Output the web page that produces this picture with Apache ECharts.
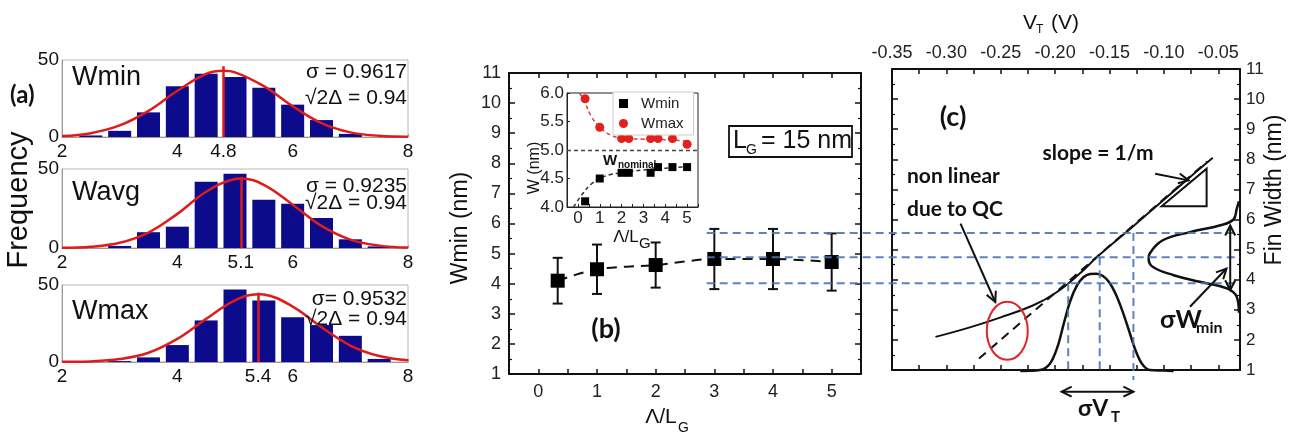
<!DOCTYPE html>
<html>
<head>
<meta charset="utf-8">
<script src="https://cdn.jsdelivr.net/npm/echarts@6.0.0/dist/echarts.min.js"></script>
<style>
html,body{margin:0;padding:0;background:#ffffff;}
#chart{width:1300px;height:439px;}
</style>
</head>
<body>
<div id="chart"></div>
<script>
// ===== Panel (a): histograms (bin centres, counts, fitted curves) =====
const binCenters = [2.5, 3.0, 3.5, 4.0, 4.5, 5.0, 5.5, 6.0, 6.5, 7.0, 7.5];
const wminCounts = [1, 4, 16, 33, 41, 39, 32, 21, 11, 2, 0];
const wavgCounts = [0, 1.3, 10, 13.5, 42, 47, 30.5, 28, 19, 5.5, 1];
const wmaxCounts = [0, 0.6, 3, 11, 27, 47, 40, 29, 24, 17, 2];
const wminFitX = [2, 2.5, 3, 3.5, 4, 4.5, 4.8, 5, 5.5, 6, 6.5, 7, 7.5, 8];
const wminFitY = [0.6, 2.5, 7.5, 17, 30, 41, 43, 42, 33, 20, 9, 3, 0.8, 0.2];
const wavgFitX = [2, 2.5, 3, 3.5, 4, 4.5, 5, 5.1, 5.5, 6, 6.5, 7, 7.5, 8];
const wavgFitY = [0.2, 0.8, 3.3, 9.8, 21.6, 35.6, 43.7, 44, 40, 27.4, 14, 5.3, 1.5, 0.3];
const wmaxFitX = [2, 2.5, 3, 3.5, 4, 4.5, 5, 5.4, 5.5, 6, 6.5, 7, 7.5, 8];
const wmaxFitY = [0.1, 0.4, 1.9, 6, 15, 28, 40, 44, 43.8, 36, 22.6, 10.7, 3.9, 1.1];
const histMeans = [4.8, 5.1, 5.4];
const histMeanTop = [46, 45, 45];
const histNames = ['Wmin', 'Wavg', 'Wmax'];
const histSigma = ['σ = 0.9617', 'σ = 0.9235', 'σ= 0.9532'];
const histDelta = ['√2Δ = 0.94', '√2Δ = 0.94', '√2Δ = 0.94'];

// ===== Panel (b): Wmin vs Λ/LG =====
const bX   = [0.33, 1, 2, 3, 4, 5];
const bW   = [4.1, 4.48, 4.62, 4.82, 4.82, 4.72];
const bErr = [0.76, 0.82, 0.75, 1.0, 1.0, 0.95];
// inset
const insetX    = [0.33, 1, 2, 2.33, 3.33, 3.67, 4.33, 5];
const insetWmin = [4.1, 4.5, 4.6, 4.6, 4.6, 4.7, 4.7, 4.7];
const insetWmax = [5.9, 5.4, 5.2, 5.2, 5.2, 5.2, 5.2, 5.1];
const insetMaxFitX = [0.07, 0.3, 0.6, 1, 1.5, 2, 3, 4, 5];
const insetMaxFitY = [6.0, 5.85, 5.6, 5.4, 5.26, 5.21, 5.19, 5.18, 5.16];
const insetMinFitX = [-0.2, 0.25, 0.6, 1, 1.5, 2, 3, 4, 5];
const insetMinFitY = [4.0, 4.25, 4.4, 4.5, 4.57, 4.6, 4.65, 4.68, 4.71];
const wNominal = 5.0;

// ===== Panel (c): Fin width vs VT =====
const vtCurveX = [-0.31, -0.28, -0.25, -0.22, -0.20, -0.18, -0.16, -0.13, -0.10, -0.075, -0.055];
const vtCurveW = [2.1, 2.4, 2.75, 3.15, 3.55, 4.12, 4.80, 5.72, 6.66, 7.44, 8.05];
const vtLinX = [-0.27, -0.06];
const vtLinW = [1.38, 7.93];
const vtPdfX = [-0.232, -0.214, -0.205, -0.198, -0.192, -0.186, -0.180, -0.174, -0.168, -0.162, -0.156, -0.150, -0.144, -0.138, -0.132, -0.126, -0.120, -0.113, -0.100, -0.091];
const vtPdfW = [0.97, 1.0, 1.2, 1.75, 2.55, 3.3, 3.8, 4.08, 4.19, 4.2, 4.12, 3.9, 3.5, 2.95, 2.3, 1.65, 1.2, 1.0, 0.98, 0.97];
const wPdfVT = [-0.031, -0.033, -0.036, -0.048, -0.076, -0.101, -0.113, -0.114, -0.110, -0.091, -0.067, -0.042, -0.033, -0.031];
const wPdfW  = [6.6, 6.35, 6.0, 5.81, 5.58, 5.31, 4.87, 4.70, 4.42, 4.15, 3.93, 3.71, 3.43, 2.9];
const guideW  = [5.55, 4.75, 3.88];        // horizontal guides (fin width)
const guideVT = [-0.188, -0.159, -0.128];  // vertical guides (VT)
const guideBStart = 2.87;                  // where horizontal guides start in (b)

const FONT = '"Liberation Sans", Arial, sans-serif';
const BFONT = 'Lato, "Liberation Sans", sans-serif';
const BLUE = '#4d76b3';
const INK = '#111';

const chart = echarts.init(document.getElementById('chart'), null, {width: 1300, height: 439, renderer: 'canvas'});

// ---- grids ----
const aTops = [60, 169, 285];
const aHeights = [77, 79, 77];
const grids = [];
aTops.forEach((t, i) => grids.push({left: 62, top: t, width: 346, height: aHeights[i], show: true, borderColor: '#b8b8b8', borderWidth: 1, containLabel: false, outerBoundsMode: 'none'}));
grids.push({left: 509, top: 73, width: 352, height: 301, containLabel: false, outerBoundsMode: 'none'});
grids.push({left: 567, top: 93, width: 131, height: 114, show: true, backgroundColor: '#fff', borderColor: '#222', borderWidth: 1, containLabel: false, outerBoundsMode: 'none'});
grids.push({left: 892, top: 69, width: 348, height: 301, containLabel: false, outerBoundsMode: 'none'});

// ---- axes ----
const xAxes = [], yAxes = [];
for (let i = 0; i < 3; i++) {
  xAxes.push({gridIndex: i, type: 'value', min: 2, max: 8, interval: 2,
    axisLine: {show: true, onZero: false, lineStyle: {color: '#9a9a9a', width: 1}},
    axisTick: {show: true, inside: true, length: 3, lineStyle: {color: '#9a9a9a'}},
    axisLabel: {color: INK, fontSize: 19, fontFamily: FONT, margin: 5}, splitLine: {show: false}});
  yAxes.push({gridIndex: i, type: 'value', min: 0, max: 50, interval: 50,
    axisLine: {show: true, onZero: false, lineStyle: {color: '#9a9a9a'}},
    axisTick: {show: false},
    axisLabel: {color: INK, fontSize: 19, fontFamily: FONT, margin: 3}, splitLine: {show: false}});
}
const intFmt = v => Math.abs(v - Math.round(v)) < 1e-6 ? String(Math.round(v)) : '';
const blackLine = {show: true, onZero: false, lineStyle: {color: INK, width: 2}};
const tickIn = {show: true, inside: true, length: 6, lineStyle: {color: INK, width: 1.5}};
const minorIn = {show: true, splitNumber: 2, length: 3, lineStyle: {color: INK, width: 1.2}};
// (b) main
xAxes.push({gridIndex: 3, type: 'value', position: 'bottom', min: -0.5, max: 5.5, interval: 0.5, axisLine: blackLine,
  axisTick: {show: true, inside: true, length: 5, lineStyle: {color: INK, width: 1.5}},
  axisLabel: {formatter: intFmt, color: '#222', fontSize: 18, fontFamily: FONT, margin: 9}, splitLine: {show: false}});
xAxes.push({gridIndex: 3, type: 'value', position: 'top', min: -0.5, max: 5.5, interval: 0.5, axisLine: blackLine,
  axisTick: {show: true, inside: true, length: 5, lineStyle: {color: INK, width: 1.5}},
  axisLabel: {show: false}, splitLine: {show: false}});
yAxes.push({gridIndex: 3, type: 'value', position: 'left', min: 1, max: 11, interval: 1, axisLine: blackLine, axisTick: tickIn, minorTick: minorIn,
  axisLabel: {color: '#222', fontSize: 18, fontFamily: FONT, margin: 8}, splitLine: {show: false}});
yAxes.push({gridIndex: 3, type: 'value', position: 'right', min: 1, max: 11, interval: 1, axisLine: blackLine, axisTick: tickIn, minorTick: minorIn,
  axisLabel: {show: false}, splitLine: {show: false}});
// inset
xAxes.push({gridIndex: 4, type: 'value', min: -0.5, max: 5.5, interval: 0.5,
  axisLine: {show: true, onZero: false, lineStyle: {color: '#222', width: 1}},
  axisTick: {show: true, inside: true, length: 3, lineStyle: {color: '#222'}},
  axisLabel: {formatter: intFmt, color: '#222', fontSize: 17, fontFamily: FONT, margin: 3}, splitLine: {show: false}});
yAxes.push({gridIndex: 4, type: 'value', min: 4, max: 6, interval: 0.5,
  axisLine: {show: true, onZero: false, lineStyle: {color: '#222', width: 1}},
  axisTick: {show: true, inside: true, length: 3, lineStyle: {color: '#222'}},
  axisLabel: {formatter: v => v.toFixed(1), color: '#222', fontSize: 17, fontFamily: FONT, margin: 3}, splitLine: {show: false}});
// (c)
const vtFmt = v => { const k = Math.round(v / 0.025); return (k % 2 === 0 && v < -0.04) ? v.toFixed(2) : ''; };
xAxes.push({gridIndex: 5, type: 'value', position: 'top', min: -0.35, max: -0.03, interval: 0.025, axisLine: blackLine,
  axisTick: {show: true, inside: true, length: 5, lineStyle: {color: INK, width: 1.5}},
  axisLabel: {formatter: vtFmt, color: '#222', fontSize: 18, fontFamily: FONT, margin: 7, showMaxLabel: false}, splitLine: {show: false}});
xAxes.push({gridIndex: 5, type: 'value', position: 'bottom', min: -0.35, max: -0.03, interval: 0.025, axisLine: blackLine,
  axisTick: {show: true, inside: true, length: 5, lineStyle: {color: INK, width: 1.5}},
  axisLabel: {show: false}, splitLine: {show: false}});
yAxes.push({gridIndex: 5, type: 'value', position: 'right', min: 1, max: 11, interval: 1, axisLine: blackLine, axisTick: tickIn, minorTick: minorIn,
  axisLabel: {color: '#222', fontSize: 17, fontFamily: FONT, margin: 6}, splitLine: {show: false}});
yAxes.push({gridIndex: 5, type: 'value', position: 'left', min: 1, max: 11, interval: 1, axisLine: blackLine, axisTick: tickIn, minorTick: minorIn,
  axisLabel: {show: false}, splitLine: {show: false}});

// ---- series ----
const zip = (xs, ys) => xs.map((x, i) => [x, ys[i]]);
const series = [];
const counts = [wminCounts, wavgCounts, wmaxCounts];
const fitXs = [wminFitX, wavgFitX, wmaxFitX];
const fitYs = [wminFitY, wavgFitY, wmaxFitY];
for (let i = 0; i < 3; i++) {
  series.push({type: 'bar', name: 'hist' + i, xAxisIndex: i, yAxisIndex: i, data: zip(binCenters, counts[i]),
    barWidth: 23, itemStyle: {color: '#0b0b8c', opacity: 1}, silent: true, animation: false});
  series.push({type: 'line', name: 'fit' + i, xAxisIndex: i, yAxisIndex: i, data: zip(fitXs[i], fitYs[i]),
    smooth: 0.4, symbol: 'none', lineStyle: {color: '#e01b1b', width: 2.5}, z: 5, silent: true,
    markLine: {symbol: 'none', silent: true, animation: false,
      lineStyle: {color: '#e01b1b', width: 2.5, type: 'solid'},
      label: {show: true, position: 'start', formatter: String(histMeans[i]), color: INK, fontSize: 19, fontFamily: FONT, distance: 5},
      data: [[{coord: [histMeans[i], 0]}, {coord: [histMeans[i], histMeanTop[i]]}]]}});
}
// (b) main
series.push({type: 'line', name: 'bfit', xAxisIndex: 3, yAxisIndex: 3, data: zip(bX, bW), smooth: 0.3, symbol: 'none',
  lineStyle: {color: INK, width: 2, type: [10, 7]}, z: 3, silent: true});
series.push({type: 'custom', name: 'berr', xAxisIndex: 3, yAxisIndex: 3,
  data: bX.map((x, i) => [x, bW[i] - bErr[i], bW[i] + bErr[i]]),
  encode: {x: 0, y: [1, 2]}, z: 4, silent: true,
  renderItem: (params, api) => {
    const lo = api.coord([api.value(0), api.value(1)]);
    const hi = api.coord([api.value(0), api.value(2)]);
    const c = 5, st = {stroke: INK, lineWidth: 2};
    return {type: 'group', children: [
      {type: 'line', shape: {x1: lo[0], y1: lo[1], x2: hi[0], y2: hi[1]}, style: st},
      {type: 'line', shape: {x1: lo[0] - c, y1: lo[1], x2: lo[0] + c, y2: lo[1]}, style: st},
      {type: 'line', shape: {x1: hi[0] - c, y1: hi[1], x2: hi[0] + c, y2: hi[1]}, style: st}]};
  }});
series.push({type: 'scatter', name: 'bpts', xAxisIndex: 3, yAxisIndex: 3, data: zip(bX, bW), symbol: 'rect', symbolSize: 14,
  itemStyle: {color: '#000', opacity: 1}, z: 6, silent: true});
// inset
series.push({type: 'line', name: 'imaxfit', xAxisIndex: 5, yAxisIndex: 5, data: zip(insetMaxFitX, insetMaxFitY), smooth: 0.4, symbol: 'none',
  lineStyle: {color: '#e04040', width: 1.5, type: [4, 3]}, silent: true,
  markLine: {symbol: 'none', silent: true, label: {show: false}, lineStyle: {color: '#444', width: 1.3, type: [4, 3]}, data: [{yAxis: wNominal}]}});
series.push({type: 'line', name: 'iminfit', xAxisIndex: 5, yAxisIndex: 5, data: zip(insetMinFitX, insetMinFitY), smooth: 0.4, symbol: 'none',
  lineStyle: {color: '#333', width: 1.5, type: [4, 3]}, silent: true});
series.push({type: 'scatter', name: 'Wmin', xAxisIndex: 5, yAxisIndex: 5, data: zip(insetX, insetWmin), symbol: 'rect', symbolSize: 8,
  itemStyle: {color: '#000', opacity: 1}, z: 6, silent: true});
series.push({type: 'scatter', name: 'Wmax', xAxisIndex: 5, yAxisIndex: 5, data: zip(insetX, insetWmax), symbol: 'circle', symbolSize: 9,
  itemStyle: {color: '#e3211c', opacity: 1}, z: 6, silent: true});
// (c)
series.push({type: 'line', name: 'vtcurve', xAxisIndex: 6, yAxisIndex: 6, data: zip(vtCurveX, vtCurveW), smooth: 0.4, symbol: 'none',
  lineStyle: {color: INK, width: 2}, silent: true, z: 4});
series.push({type: 'line', name: 'vtlin', xAxisIndex: 6, yAxisIndex: 6, data: zip(vtLinX, vtLinW), symbol: 'none',
  lineStyle: {color: INK, width: 2, type: [9, 6]}, silent: true, z: 4});
series.push({type: 'line', name: 'vtpdf', xAxisIndex: 6, yAxisIndex: 6, data: zip(vtPdfX, vtPdfW), smooth: 0.35, symbol: 'none', clip: false,
  lineStyle: {color: INK, width: 2.5}, silent: true, z: 4});
series.push({type: 'line', name: 'wpdf', xAxisIndex: 6, yAxisIndex: 6, data: zip(wPdfVT, wPdfW), smooth: 0.4, symbol: 'none', clip: false,
  lineStyle: {color: INK, width: 2.5}, silent: true, z: 4});

const option = {
  animation: false,
  backgroundColor: '#ffffff',
  textStyle: {fontFamily: FONT},
  grid: grids, xAxis: xAxes, yAxis: yAxes, series: series,
  legend: {show: true, data: ['Wmin', 'Wmax'], orient: 'vertical', left: 613, top: 92, itemWidth: 9, itemHeight: 9, itemGap: 5,
    backgroundColor: '#ffffff', borderColor: '#cccccc', borderWidth: 1, padding: [4, 10, 4, 6],
    textStyle: {fontSize: 15, color: '#222', fontFamily: FONT, padding: [0, 0, 0, 8]}, selectedMode: false, z: 20}
};
chart.setOption(option);

// ---- annotations ----
function txt(text, x, y, o = {}) {
  return {type: 'text', x: x, y: y, rotation: o.rot || 0, silent: true, z: 60,
    style: {text: text, fill: o.color || INK, fontSize: o.size || 18, fontFamily: o.family || FONT, fontWeight: o.weight || 'normal',
      align: o.align || 'left', verticalAlign: 'middle'}};
}
const pc = (vt, w) => chart.convertToPixel({xAxisIndex: 6, yAxisIndex: 6}, [vt, w]);
function seg(p, q, st) { return {type: 'line', silent: true, z: 55, shape: {x1: p[0], y1: p[1], x2: q[0], y2: q[1]}, style: st}; }
function chev(tip, from, L = 10, W = 5) {
  const dx = tip[0] - from[0], dy = tip[1] - from[1], n = Math.hypot(dx, dy), ux = dx / n, uy = dy / n;
  const bx = tip[0] - ux * L, by = tip[1] - uy * L;
  return {type: 'polyline', silent: true, z: 56, shape: {points: [[bx - uy * W, by + ux * W], tip, [bx + uy * W, by - ux * W]]},
    style: {stroke: INK, lineWidth: 2, fill: null}};
}
function arrow(p, q, both) {
  const out = [seg(p, q, {stroke: INK, lineWidth: 2}), chev(q, p)];
  if (both) out.push(chev(p, q));
  return out;
}
const G = [];
// panel (a) texts
G.push(txt('(a)', 10, 95, {size: 24, weight: 'bold', family: BFONT}));
G.push(txt('Frequency', 19, 200, {size: 29, align: 'center', rot: Math.PI / 2}));
const nameY = [78, 193, 312], sigY = [72, 186, 299], delY = [98, 203, 319];
for (let i = 0; i < 3; i++) {
  G.push(txt(histNames[i], 72, nameY[i], {size: 27}));
  G.push(txt(histSigma[i], 407, sigY[i], {size: 21, align: 'right'}));
  G.push(txt(histDelta[i], 407, delY[i], {size: 21, align: 'right'}));
}
// panel (b) texts
G.push(txt('Wmin (nm)', 461, 228, {size: 23, align: 'center', rot: Math.PI / 2}));
G.push(txt('Λ/L', 661, 417, {size: 21, align: 'center'}));
G.push(txt('G', 678, 428, {size: 14}));
G.push(txt('(b)', 606, 329, {size: 27, weight: 'bold', family: BFONT, align: 'center'}));
G.push({type: 'rect', silent: true, z: 50, shape: {x: 729, y: 126, width: 123, height: 31}, style: {fill: '#fff', stroke: INK, lineWidth: 1.8}});
G.push(txt('L', 733, 141, {size: 25}));
G.push(txt('G', 746, 150, {size: 14}));
G.push(txt('= 15 nm', 761, 141, {size: 25}));
G.push(txt('W (nm)', 535, 168, {size: 16, align: 'center', rot: Math.PI / 2}));
G.push(txt('Λ/L', 626, 237, {size: 17, align: 'center'}));
G.push(txt('G', 639, 244, {size: 15}));
G.push(txt('W', 603, 161, {size: 15, weight: 'bold'}));
G.push(txt('nominal', 618, 165, {size: 10, weight: 'bold'}));
// panel (c) texts
G.push(txt('V', 1023, 23, {size: 21}));
G.push(txt('T', 1036, 30, {size: 12}));
G.push(txt('(V)', 1051, 23, {size: 21}));
G.push(txt('Fin Width (nm)', 1275, 190, {size: 23, align: 'center', rot: Math.PI / 2}));
G.push(txt('(c)', 953, 117, {size: 27, weight: 'bold', family: BFONT, align: 'center'}));
G.push(txt('slope = 1/m', 1098, 153, {size: 21, weight: 'bold', family: BFONT, align: 'center'}));
G.push(txt('non linear', 907, 176, {size: 21, weight: 'bold', family: BFONT}));
G.push(txt('due to QC', 907, 209, {size: 21, weight: 'bold', family: BFONT}));
G.push(txt('σW', 1160, 320, {size: 25, weight: 'bold', family: BFONT}));
G.push(txt('min', 1196, 328, {size: 16, weight: 'bold', family: BFONT}));
G.push(txt('σV', 1078, 409, {size: 23, weight: 'bold', family: BFONT}));
G.push(txt('T', 1111, 417, {size: 15, weight: 'bold', family: BFONT}));

// blue guide lines
const blueSt = {stroke: BLUE, lineWidth: 2, lineDash: [8, 5], opacity: 0.9};
const bStartPx = chart.convertToPixel({xAxisIndex: 3}, guideBStart);
const cEndPx = chart.convertToPixel({xAxisIndex: 6}, -0.03);
guideW.forEach(w => {
  const y = chart.convertToPixel({yAxisIndex: 6}, w);
  G.push(seg([bStartPx, y], [cEndPx, y], blueSt));
});
const guideBottom = [1, 1, 0.67];
guideVT.forEach((vt, i) => G.push(seg(pc(vt, guideW[2 - i]), pc(vt, guideBottom[i]), blueSt)));

// arrows in (c)
G.push(...arrow(pc(-0.287, 5.86), pc(-0.255, 3.26), false));
G.push(...arrow(pc(-0.108, 7.52), pc(-0.0773, 7.30), false));
G.push(...arrow(pc(-0.076, 3.10), pc(-0.0424, 4.37), false));
G.push(...arrow(pc(-0.039, 3.65), pc(-0.039, 5.8), true));
G.push(...arrow(pc(-0.194, 0.28), pc(-0.128, 0.28), true));
// slope triangle
G.push({type: 'polygon', silent: true, z: 55, shape: {points: [pc(-0.102, 6.44), pc(-0.0607, 6.44), pc(-0.0607, 7.69)]},
  style: {fill: null, stroke: INK, lineWidth: 2}});
// red ellipse
const ec = pc(-0.244, 2.30);
G.push({type: 'ellipse', silent: true, z: 57, shape: {cx: ec[0], cy: ec[1], rx: 20.5, ry: 29}, style: {fill: null, stroke: '#e0242a', lineWidth: 2}});

chart.setOption({graphic: G});
</script>
</body>
</html>
